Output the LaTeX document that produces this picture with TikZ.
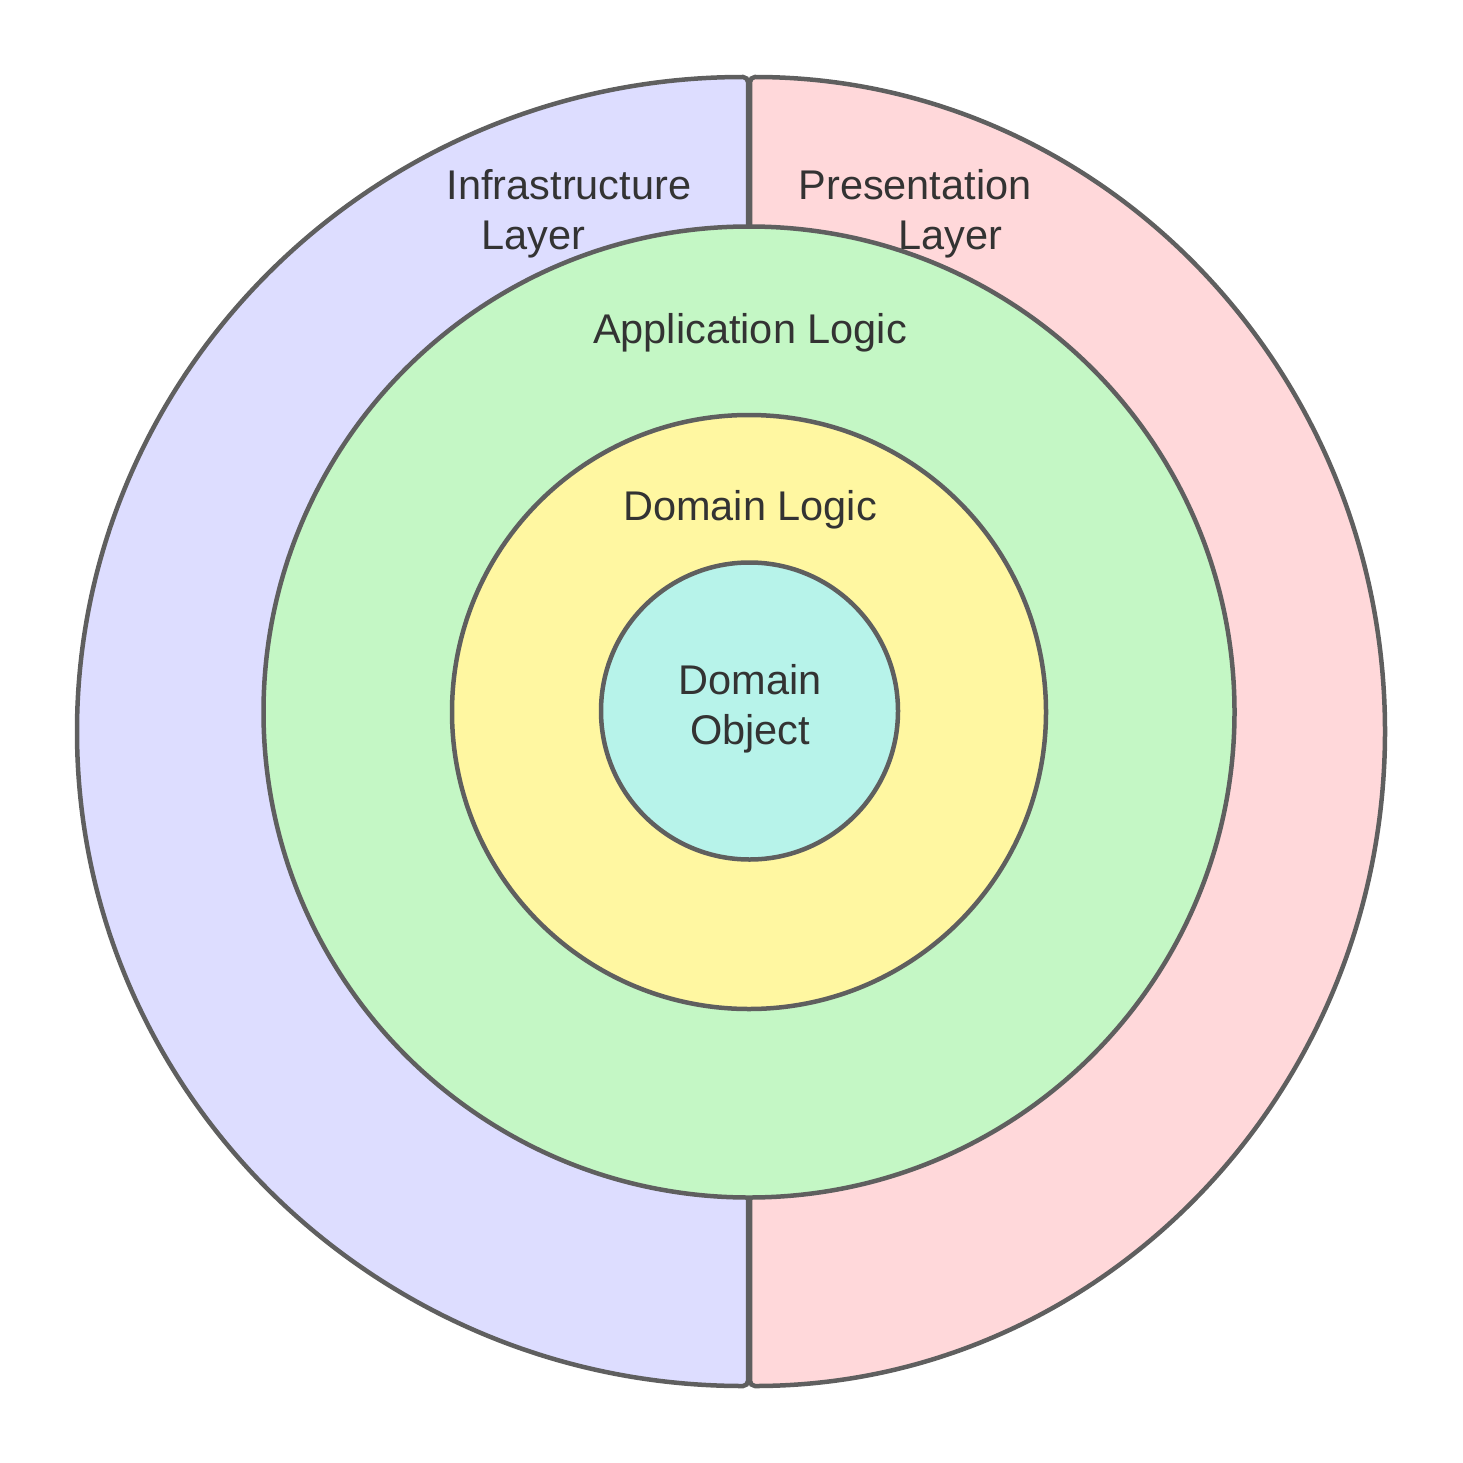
\documentclass[tikz,border=0pt]{standalone}
\usepackage{fontspec}
\setmainfont{Liberation Sans}
\usepackage{xcolor}
\usepackage{tikz}

\definecolor{infracol}{RGB}{221,221,255}
\definecolor{prescol}{RGB}{255,216,218}
\definecolor{applcol}{RGB}{196,247,197}
\definecolor{domlcol}{RGB}{255,247,161}
\definecolor{domocol}{RGB}{183,243,234}
\definecolor{edgecol}{RGB}{95,95,95}
\definecolor{inkcol}{RGB}{51,51,51}

\begin{document}
\begin{tikzpicture}[x=1pt,y=-1pt]
      \tikzset{layer/.style={draw=edgecol,line width=4.5pt,rounded corners=5pt}}
      \tikzset{ring/.style={circle,draw=edgecol,line width=4.5pt,inner sep=0pt,outer sep=0pt}}
      \tikzset{lbl/.style={text=inkcol,font=\fontsize{41.5}{50}\selectfont,anchor=base,inner sep=0pt}}
      \def\outerry{654.5}

      \useasboundingbox (0,0) rectangle (1463,1463);

      % outer layers
      \draw[layer,fill=infracol] (748,1386) arc[start angle=90,end angle=270,x radius=671,y radius=\outerry] -- cycle;
      \draw[layer,fill=prescol] (750,77) arc[start angle=-90,end angle=90,x radius=635,y radius=\outerry] -- cycle;

      % inner rings
      \node[ring,fill=applcol,minimum size=971] (appl) at (749,712) {};
      \node[ring,fill=domlcol,minimum size=594] (doml) at (749,712) {};
      \node[ring,fill=domocol,minimum size=297] (domo) at (749.5,711) {};

      \node[lbl] (infra) at (569,200) {Infrastructure};
      \node[lbl] (infralayer) at (533,250) {Layer};
      \node[lbl] (pres) at (915,200) {Presentation};
      \node[lbl] (preslayer) at (950,250) {Layer};
      \node[lbl] (appllbl) at (750,343) {Application Logic};
      \node[lbl] (domllbl) at (750,520) {Domain Logic};
      \node[lbl] (domolbl) at (750,694) {Domain};
      \node[lbl] (domolbltwo) at (750,744) {Object};
\end{tikzpicture}
\end{document}
